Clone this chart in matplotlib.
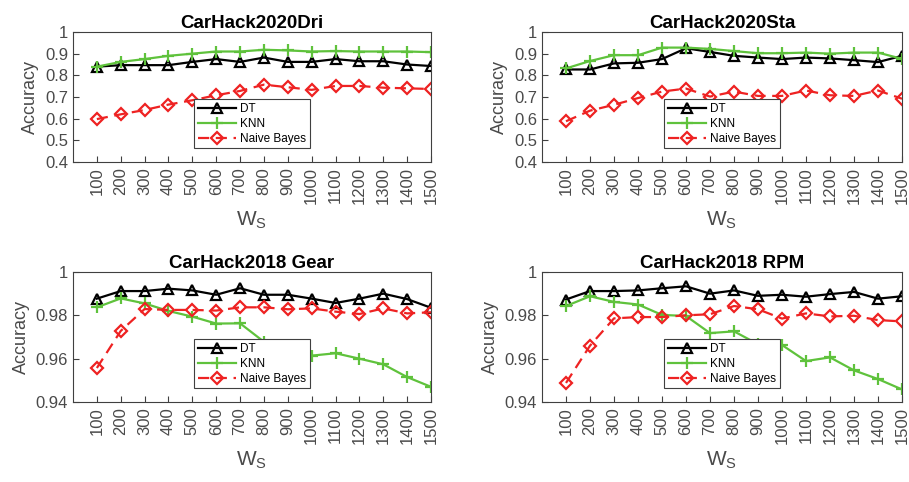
import numpy as np
import matplotlib
matplotlib.use("Agg")
import matplotlib.pyplot as plt

plt.rcParams['font.family'] = ['Liberation Sans', 'DejaVu Sans']

ws = [100, 200, 300, 400, 500, 600, 700, 800, 900, 1000, 1100, 1200, 1300, 1400, 1500]

titles = ["CarHack2020Dri", "CarHack2020Sta", "CarHack2018 Gear", "CarHack2018 RPM"]

dt_dri = [0.840, 0.847, 0.847, 0.847, 0.862, 0.875, 0.862, 0.882, 0.862, 0.862, 0.875, 0.865, 0.865, 0.850, 0.843]
knn_dri = [0.840, 0.862, 0.875, 0.890, 0.900, 0.910, 0.910, 0.918, 0.915, 0.910, 0.912, 0.910, 0.910, 0.910, 0.907]
nb_dri = [0.598, 0.620, 0.640, 0.665, 0.685, 0.708, 0.728, 0.757, 0.745, 0.733, 0.751, 0.751, 0.743, 0.740, 0.737]

dt_sta = [0.827, 0.827, 0.855, 0.858, 0.875, 0.925, 0.908, 0.890, 0.882, 0.875, 0.882, 0.878, 0.870, 0.861, 0.890]
knn_sta = [0.832, 0.866, 0.893, 0.893, 0.928, 0.928, 0.922, 0.912, 0.902, 0.902, 0.905, 0.900, 0.905, 0.905, 0.876]
nb_sta = [0.588, 0.637, 0.664, 0.695, 0.725, 0.739, 0.702, 0.725, 0.705, 0.705, 0.730, 0.708, 0.705, 0.730, 0.692]

dt_gear = [0.9877, 0.9912, 0.9912, 0.9923, 0.9915, 0.9895, 0.9925, 0.9895, 0.9895, 0.9877, 0.9857, 0.9877, 0.9900, 0.9875, 0.9835]
knn_gear = [0.9837, 0.9878, 0.9855, 0.9820, 0.9794, 0.9762, 0.9763, 0.9678, 0.9645, 0.9614, 0.9625, 0.9600, 0.9574, 0.9515, 0.9470]
nb_gear = [0.9557, 0.9728, 0.9829, 0.9825, 0.9825, 0.9822, 0.9837, 0.9837, 0.9828, 0.9832, 0.9817, 0.9806, 0.9832, 0.9809, 0.9814]

dt_rpm = [0.9873, 0.9912, 0.9912, 0.9915, 0.9925, 0.9934, 0.9900, 0.9915, 0.9890, 0.9895, 0.9886, 0.9898, 0.9908, 0.9877, 0.9888]
knn_rpm = [0.9843, 0.9888, 0.9862, 0.9850, 0.9802, 0.9797, 0.9718, 0.9726, 0.9667, 0.9663, 0.9589, 0.9606, 0.9546, 0.9506, 0.9458]
nb_rpm = [0.9488, 0.9660, 0.9786, 0.9792, 0.9792, 0.9800, 0.9805, 0.9843, 0.9828, 0.9785, 0.9809, 0.9795, 0.9798, 0.9778, 0.9772]

dt_all = [dt_dri, dt_sta, dt_gear, dt_rpm]
knn_all = [knn_dri, knn_sta, knn_gear, knn_rpm]
nb_all = [nb_dri, nb_sta, nb_gear, nb_rpm]

W, H = 909, 482
fig = plt.figure(figsize=(W / 100, H / 100), dpi=100)

# axes boxes in pixels: left, right, top, bottom
boxes = [(73, 431, 32, 162), (542, 902, 32, 162), (73, 431, 272, 402), (542, 902, 272, 402)]

txt = '#4a4a4a'
x = np.arange(1, len(ws) + 1)

for i in range(4):
    l, r, t, b = boxes[i]
    ax = fig.add_axes([l / W, 1 - b / H, (r - l) / W, (b - t) / H])
    ax.plot(x, dt_all[i], color='black', lw=1.6, marker='^', ms=7.5, mfc='none', mew=1.6, label='DT')
    ax.plot(x, knn_all[i], color='#5fc23c', lw=1.6, marker='+', ms=8, mew=1.6, label='KNN')
    ax.plot(x, nb_all[i], color='#ee2222', lw=1.6, ls=(0, (5, 3)), marker='D', ms=6.5, mfc='none', mew=1.6, label='Naive Bayes')
    ax.set_xlim(0, 15)
    if i < 2:
        ax.set_ylim(0.4, 1.0)
        ax.set_yticks([0.4, 0.5, 0.6, 0.7, 0.8, 0.9, 1.0])
        ax.set_yticklabels(['0.4', '0.5', '0.6', '0.7', '0.8', '0.9', '1'])
    else:
        ax.set_ylim(0.94, 1.0)
        ax.set_yticks([0.94, 0.96, 0.98, 1.0])
        ax.set_yticklabels(['0.94', '0.96', '0.98', '1'])
    ax.set_xticks(x)
    ax.set_xticklabels([str(v) for v in ws], rotation=90)
    ax.tick_params(direction='in', length=4, width=0.8, colors='#404040', labelsize=12, labelcolor=txt)
    for s in ax.spines.values():
        s.set_color('#404040')
        s.set_linewidth(0.8)
    ax.set_title(titles[i], fontsize=13.5, fontweight='bold', pad=3)
    ax.set_ylabel('Accuracy', fontsize=13, color=txt, labelpad=4)
    ax.set_xlabel('W$_\\mathregular{S}$', fontsize=15, color=txt, labelpad=4)
    leg = ax.legend(loc='lower center', bbox_to_anchor=(0.5, 0.06), fontsize=8.5,
                    fancybox=False, framealpha=1, edgecolor='#404040',
                    handlelength=3.2, borderpad=0.3, labelspacing=0.25, handletextpad=0.4)
    leg.get_frame().set_linewidth(0.8)

fig.savefig('out.png', dpi=100)
